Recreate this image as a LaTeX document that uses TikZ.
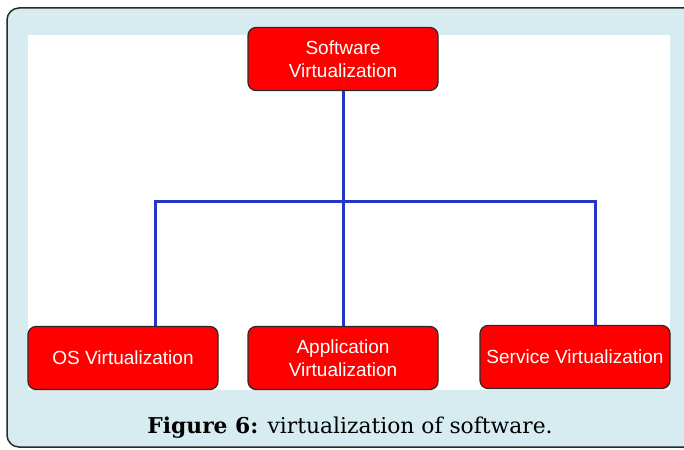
\documentclass[tikz,border=0pt]{standalone}
\usepackage{fontspec}
\setmainfont{DejaVu Serif}
\newfontfamily\boxfont{Liberation Sans}
\definecolor{framebg}{HTML}{D7ECF1}
\definecolor{boxred}{HTML}{FF0000}
\definecolor{linkblue}{HTML}{2236C8}
\definecolor{edgegray}{HTML}{2A2A2A}
\tikzset{
  redbox/.style={draw=edgegray, line width=1.2pt, fill=boxred, rounded corners=8pt,
    minimum width=190pt, minimum height=63pt, text=white, align=center,
    font=\boxfont\fontsize{19pt}{23pt}\selectfont, inner sep=0pt},
  link/.style={draw=linkblue, line width=3pt}
}
\begin{document}
\begin{tikzpicture}[x=1pt,y=-1pt]
\useasboundingbox (0,0) rectangle (684,449);
\draw[draw=edgegray, line width=1.5pt, fill=framebg, rounded corners=12pt] (7,8) rectangle (700,447);
\fill[white] (28,35) rectangle (670,390);
\node[redbox] (sw) at (343,59) {Software\\Virtualization};
\node[redbox] (os) at (123,358) {OS Virtualization};
\node[redbox] (app) at (343,358) {Application\\Virtualization};
\node[redbox] (svc) at (575,357) {Service Virtualization};
\coordinate (hl) at (155,201);
\coordinate (hm) at (343,201);
\coordinate (hr) at (595,201);
\draw[link] (sw.south) -- (hm);
\draw[link] (hm) -- (app.north);
\draw[link] (hl |- os.north) -- (hl) -- (hr) -- (hr |- svc.north);
\node[font=\fontsize{21.8pt}{26pt}\selectfont] (cap) at (350,428) {\textbf{Figure 6:} virtualization of software.};
\end{tikzpicture}
\end{document}
